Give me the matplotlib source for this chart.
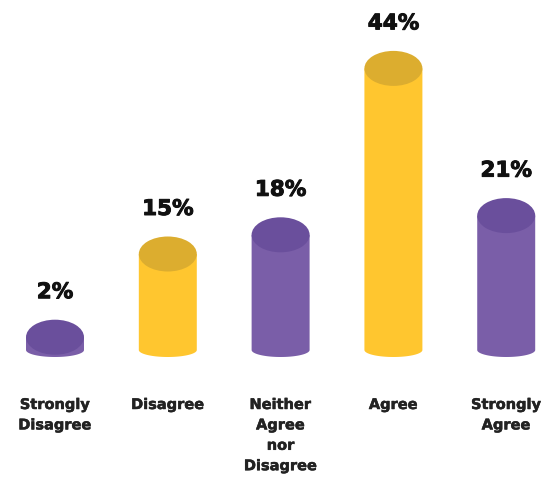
import numpy as np
import matplotlib
matplotlib.use("Agg")
import matplotlib.pyplot as plt
import matplotlib.patheffects as pe
from matplotlib.patches import Ellipse, Polygon

categories = ["Strongly\nDisagree", "Disagree", "Neither\nAgree\nnor\nDisagree", "Agree", "Strongly\nAgree"]
values = [2, 15, 18, 44, 21]
labels = ["2%", "15%", "18%", "44%", "21%"]

PURPLE_BODY, PURPLE_TOP = "#7A5EA8", "#6A4F9C"
YELLOW_BODY, YELLOW_TOP = "#FFC62F", "#DCAD2F"
body_colors = [PURPLE_BODY, YELLOW_BODY, PURPLE_BODY, YELLOW_BODY, PURPLE_BODY]
top_colors = [PURPLE_TOP, YELLOW_TOP, PURPLE_TOP, YELLOW_TOP, PURPLE_TOP]

W, H, DPI = 544, 478, 100
fig = plt.figure(figsize=(W / DPI, H / DPI), dpi=DPI)
ax = fig.add_axes([0, 0, 1, 1])
# 6.4 px per percentage point, zero line 350 px from the top
ax.set_xlim(-0.4876, 4.335)
ax.set_ylim(-128 / 6.4, 350 / 6.4)
ax.axis("off")

col_w = 0.514          # cylinder width (data units along x)
top_h = 35 / 6.4       # full height of the top ellipse (data units along y)
bot_h = 14 / 6.4       # full height of the bottom ellipse

FONT = "DejaVu Sans"

def heavy(color, lw):
    return [pe.withStroke(linewidth=lw, foreground=color)]

for i, (v, bc, tc, lab) in enumerate(zip(values, body_colors, top_colors, labels)):
    # body: straight sides with a curved bottom
    t = np.linspace(np.pi, 2 * np.pi, 60)
    arc_x = i + (col_w / 2) * np.cos(t)
    arc_y = (bot_h / 2) * np.sin(t)
    xs = np.concatenate([[i - col_w / 2], arc_x, [i + col_w / 2]])
    ys = np.concatenate([[v], arc_y, [v]])
    ax.add_patch(Polygon(np.column_stack([xs, ys]), closed=True,
                         facecolor=bc, edgecolor="none", zorder=2))
    # top face
    ax.add_patch(Ellipse((i, v), col_w, top_h, facecolor=tc,
                         edgecolor="none", zorder=3))
    ax.annotate(lab, (i, v), xytext=(0, 45), textcoords="offset pixels",
                ha="center", va="center", fontsize=15.5, fontweight="bold",
                family=FONT, color="#111111", path_effects=heavy("#111111", 0.7))

for i, cat in enumerate(categories):
    ax.annotate(cat, (i, 0), xytext=(0, -47), textcoords="offset pixels",
                ha="center", va="top", fontsize=10.5, fontweight="bold",
                family=FONT, color="#222222", linespacing=1.45,
                path_effects=heavy("#222222", 0.35))

fig.savefig("out.png", dpi=DPI, facecolor="white")
